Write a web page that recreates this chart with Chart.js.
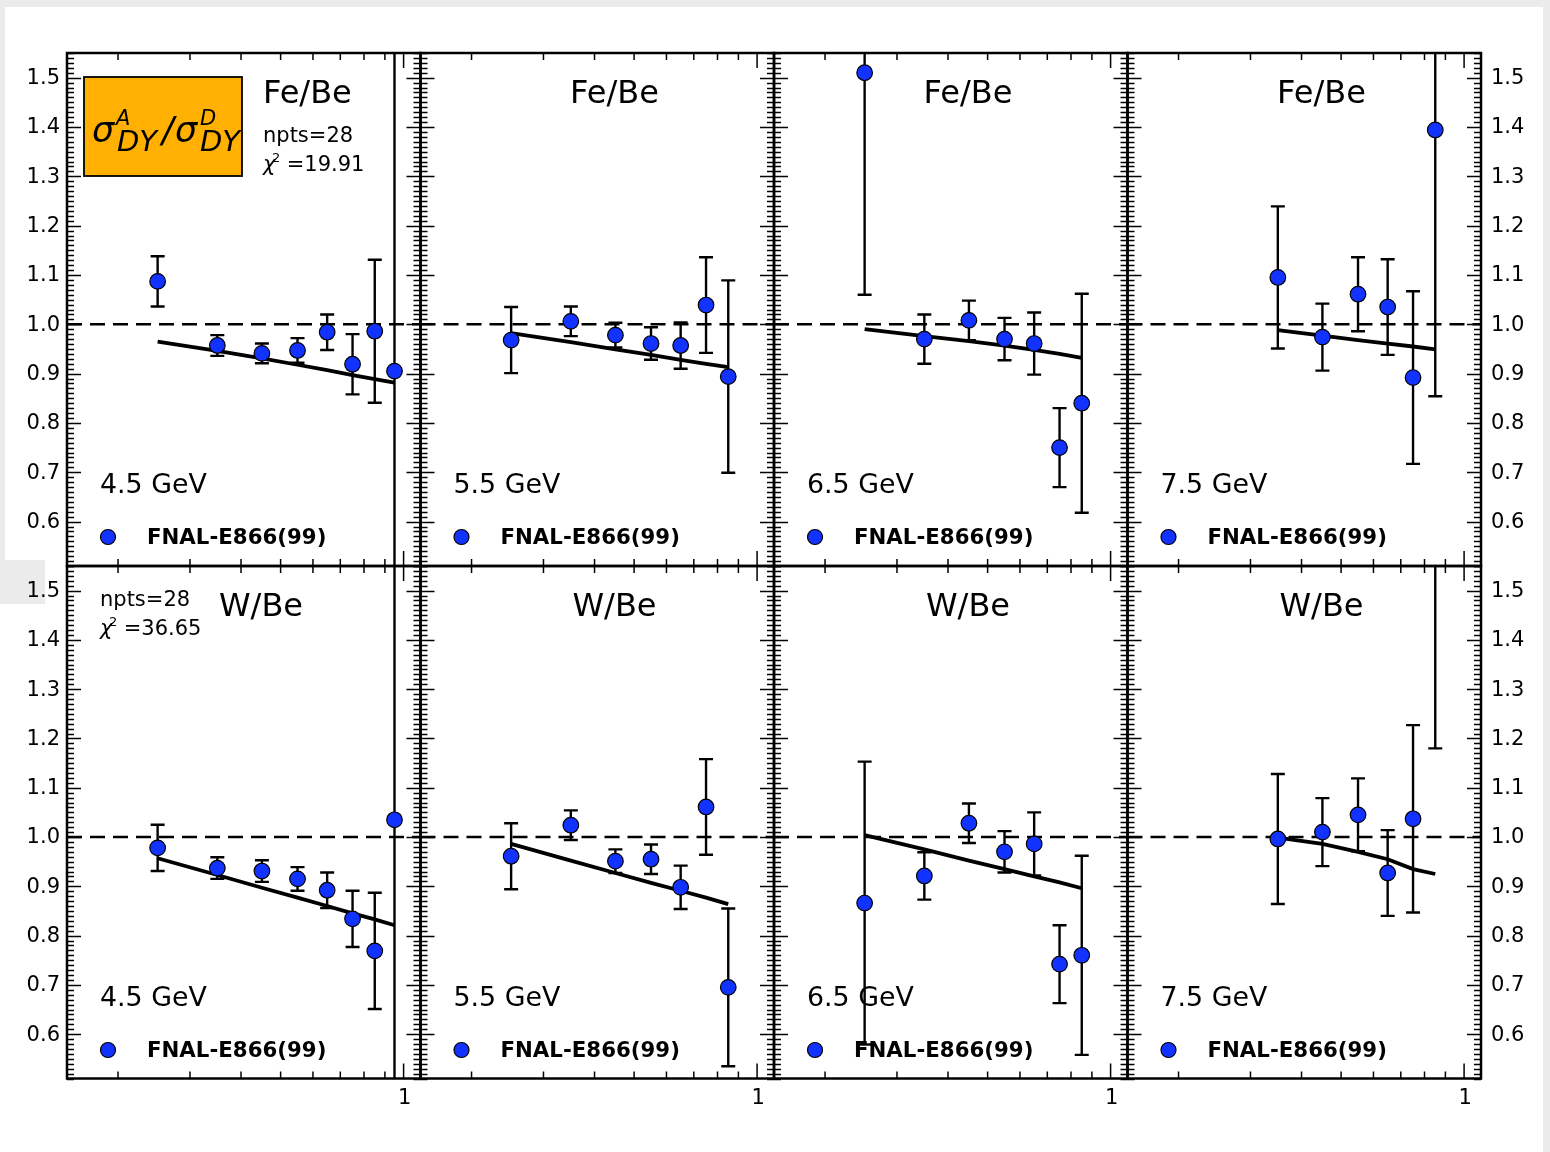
<!DOCTYPE html>
<html>
<head>
<meta charset="utf-8">
<script src="https://cdn.jsdelivr.net/npm/chart.js@4.4.0/dist/chart.umd.min.js"></script>
<style>
    body { margin: 0; background: #ebebeb; }
    #page { position: relative; width: 1550px; height: 1152px; overflow: hidden; }
    .sheet { position: absolute; background: #fff; }
    canvas { position: absolute; left: 0; top: 0; }
</style>
</head>
<body>
<div id="page">
    <div class="sheet" style="left:5px;top:7px;width:1538px;height:1145px;"></div>
    <div class="sheet" style="left:0;top:604px;width:6px;height:548px;"></div>
    <div style="position:absolute;left:0;top:560px;width:45px;height:44px;background:#ebebeb;"></div>
</div>
<script>
// x bins (log axis) and labels
const xAll = [0.25, 0.35, 0.45, 0.55, 0.65, 0.75, 0.85, 0.95];
const xMid = [0.25, 0.35, 0.45, 0.55, 0.65, 0.75, 0.85];
const xHigh = [0.35, 0.45, 0.55, 0.65, 0.75, 0.85];
const energyBins = ["4.5 GeV", "5.5 GeV", "6.5 GeV", "7.5 GeV"];
const ratioNames = ["Fe/Be", "W/Be"];
const yTicks = [0.6, 0.7, 0.8, 0.9, 1.0, 1.1, 1.2, 1.3, 1.4, 1.5];
const xMinorTicks = [0.2, 0.3, 0.4, 0.5, 0.6, 0.7, 0.8, 0.9];
const xMajorTicks = [1];
const fitStats = [["npts=28", "19.91"], ["npts=28", "36.65"]];

// Fe/Be
const fe45 = [1.087, 0.957, 0.941, 0.947, 0.984, 0.919, 0.986, 0.905];
const fe45Err = [0.051, 0.021, 0.020, 0.025, 0.036, 0.061, 0.145, 0.75];
const fe45Fit = [0.965, 0.946, 0.931, 0.918, 0.907, 0.897, 0.889, 0.882];

const fe55 = [0.968, 1.006, 0.978, 0.961, 0.957, 1.039, 0.894];
const fe55Err = [0.067, 0.030, 0.025, 0.033, 0.047, 0.097, 0.195];
const fe55Fit = [0.982, 0.964, 0.949, 0.938, 0.928, 0.920, 0.913];

const fe65 = [1.510, 0.970, 1.008, 0.970, 0.961, 0.750, 0.840];
const fe65Err = [0.450, 0.050, 0.040, 0.043, 0.063, 0.080, 0.222];
const fe65Fit = [0.990, 0.976, 0.966, 0.957, 0.948, 0.940, 0.932];

const fe75 = [1.095, 0.974, 1.061, 1.035, 0.892, 1.394];
const fe75Err = [0.144, 0.068, 0.075, 0.097, 0.175, 0.540];
const fe75Fit = [0.988, 0.977, 0.968, 0.961, 0.955, 0.949];

// W/Be
const w45 = [0.978, 0.937, 0.931, 0.915, 0.892, 0.834, 0.769, 1.035];
const w45Err = [0.047, 0.022, 0.022, 0.024, 0.036, 0.057, 0.118, 0.75];
const w45Fit = [0.957, 0.923, 0.897, 0.877, 0.860, 0.845, 0.833, 0.821];

const w55 = [0.961, 1.024, 0.951, 0.955, 0.898, 1.061, 0.695];
const w55Err = [0.067, 0.030, 0.024, 0.030, 0.044, 0.097, 0.160];
const w55Fit = [0.986, 0.952, 0.927, 0.907, 0.891, 0.877, 0.864];

const w65 = [0.866, 0.921, 1.028, 0.970, 0.986, 0.742, 0.760];
const w65Err = [0.287, 0.048, 0.040, 0.042, 0.064, 0.079, 0.202];
const w65Fit = [1.004, 0.975, 0.952, 0.935, 0.920, 0.908, 0.896];

const w75 = [0.996, 1.010, 1.045, 0.927, 1.037, 1.630];
const w75Err = [0.132, 0.069, 0.074, 0.087, 0.190, 0.450];
const w75Fit = [0.999, 0.986, 0.970, 0.955, 0.935, 0.925];

const panels = [
    { row: 0, col: 0, x: xAll, y: fe45, err: fe45Err, fit: fe45Fit },
    { row: 0, col: 1, x: xMid, y: fe55, err: fe55Err, fit: fe55Fit },
    { row: 0, col: 2, x: xMid, y: fe65, err: fe65Err, fit: fe65Fit },
    { row: 0, col: 3, x: xHigh, y: fe75, err: fe75Err, fit: fe75Fit },
    { row: 1, col: 0, x: xAll, y: w45, err: w45Err, fit: w45Fit },
    { row: 1, col: 1, x: xMid, y: w55, err: w55Err, fit: w55Fit },
    { row: 1, col: 2, x: xMid, y: w65, err: w65Err, fit: w65Fit },
    { row: 1, col: 3, x: xHigh, y: w75, err: w75Err, fit: w75Fit },
];

const POINT_BLUE = "#1233ff";
const FONT = '"DejaVu Sans", sans-serif';
const page = document.getElementById("page");

function panelDecor(p) {
    return {
        id: "decor",
        beforeDatasetsDraw(chart) {
            const { ctx, chartArea: a, scales: { x, y } } = chart;
            ctx.save();
            ctx.beginPath();
            ctx.rect(a.left, a.top, a.width, a.height);
            ctx.clip();
            ctx.strokeStyle = "#000";
            ctx.lineWidth = 2.4;
            p.x.forEach((xv, i) => {
                const px = x.getPixelForValue(xv);
                const lo = y.getPixelForValue(p.y[i] - p.err[i]);
                const hi = y.getPixelForValue(p.y[i] + p.err[i]);
                ctx.beginPath();
                ctx.moveTo(px, lo); ctx.lineTo(px, hi);
                ctx.moveTo(px - 7, lo); ctx.lineTo(px + 7, lo);
                ctx.moveTo(px - 7, hi); ctx.lineTo(px + 7, hi);
                ctx.stroke();
            });
            ctx.restore();
        },
        afterDraw(chart) {
            const { ctx, chartArea: a, scales: { x, y } } = chart;
            const L = a.left, T = a.top;
            ctx.save();
            ctx.strokeStyle = "#000";
            ctx.fillStyle = "#000";

            // inward ticks, y (minor every 0.01)
            ctx.lineWidth = 1.5;
            ctx.beginPath();
            for (let k = 51; k <= 155; k++) {
                const py = Math.round(y.getPixelForValue(k / 100)) + 0.5;
                const len = k % 10 === 0 ? 14 : 7;
                ctx.moveTo(a.left, py); ctx.lineTo(a.left + len, py);
                ctx.moveTo(a.right, py); ctx.lineTo(a.right - len, py);
            }
            // x ticks
            xMinorTicks.forEach(v => {
                const px = x.getPixelForValue(v);
                ctx.moveTo(px, a.bottom); ctx.lineTo(px, a.bottom - 7);
                ctx.moveTo(px, a.top); ctx.lineTo(px, a.top + 7);
            });
            xMajorTicks.forEach(v => {
                const px = x.getPixelForValue(v);
                ctx.moveTo(px, a.bottom); ctx.lineTo(px, a.bottom - 15);
                ctx.moveTo(px, a.top); ctx.lineTo(px, a.top + 15);
            });
            ctx.stroke();

            // spines
            ctx.lineWidth = 2.5;
            ctx.strokeRect(a.left, a.top, a.width, a.height);

            // tick labels
            ctx.font = "21px " + FONT;
            ctx.textBaseline = "middle";
            if (p.col === 0) {
                ctx.textAlign = "right";
                yTicks.forEach(v => ctx.fillText(v.toFixed(1), a.left - 7, y.getPixelForValue(v) + 1));
            }
            if (p.col === 3) {
                ctx.textAlign = "left";
                yTicks.forEach(v => ctx.fillText(v.toFixed(1), a.right + 10, y.getPixelForValue(v) + 1));
            }
            if (p.row === 1) {
                ctx.textAlign = "center";
                xMajorTicks.forEach(v => ctx.fillText(String(v), x.getPixelForValue(v) + 1, a.bottom + 20));
            }

            // ratio title
            ctx.textBaseline = "alphabetic";
            ctx.font = "32px " + FONT;
            if (p.row === 0 && p.col === 0) {
                ctx.textAlign = "left";
                ctx.fillText(ratioNames[0], L + 196, T + 50);
            } else {
                ctx.textAlign = "center";
                ctx.fillText(ratioNames[p.row], L + 194, T + 50);
            }

            // fit statistics
            if (p.col === 0) {
                const sx = p.row === 0 ? L + 196 : L + 33;
                const sy = p.row === 0 ? T + 89 : T + 40;
                const st = fitStats[p.row];
                ctx.textAlign = "left";
                ctx.font = "21px " + FONT;
                ctx.fillText(st[0], sx, sy);
                ctx.font = "italic 21px " + FONT;
                ctx.fillText("\u03c7", sx, sy + 29);
                ctx.font = "13px " + FONT;
                ctx.fillText("2", sx + 9, sy + 20);
                ctx.font = "21px " + FONT;
                ctx.fillText(" =" + st[1], sx + 17, sy + 29);
            }

            // energy label
            ctx.font = "26.8px " + FONT;
            ctx.textAlign = "left";
            ctx.fillText(energyBins[p.col], L + 33, T + 440);

            // legend
            ctx.beginPath();
            ctx.arc(L + 41, T + 484, 7.5, 0, Math.PI * 2);
            ctx.fillStyle = POINT_BLUE;
            ctx.fill();
            ctx.lineWidth = 1.2;
            ctx.stroke();
            ctx.fillStyle = "#000";
            ctx.font = "bold 21.3px " + FONT;
            ctx.fillText("FNAL-E866(99)", L + 80, T + 491);

            // orange label box
            if (p.row === 0 && p.col === 0) {
                ctx.fillStyle = "#ffb000";
                ctx.fillRect(L + 17, T + 24, 158, 99);
                ctx.lineWidth = 1.8;
                ctx.strokeRect(L + 17, T + 24, 158, 99);
                ctx.fillStyle = "#000";
                ctx.font = "italic 35px " + FONT;
                ctx.fillText("\u03c3", L + 25, T + 89);
                ctx.fillText("/", L + 95, T + 89);
                ctx.fillText("\u03c3", L + 108, T + 89);
                ctx.font = "italic 21px " + FONT;
                ctx.fillText("A", L + 49, T + 72);
                ctx.fillText("D", L + 133, T + 72);
                ctx.font = "italic 29px " + FONT;
                ctx.fillText("DY", L + 50, T + 98);
                ctx.fillText("DY", L + 133, T + 98);
            }
            ctx.restore();
        }
    };
}

panels.forEach(p => {
    const L = 67 + p.col * 353.5, R = L + 353.5;
    const T = p.row === 0 ? 53 : 566, B = p.row === 0 ? 566 : 1078.5;
    const cv = document.createElement("canvas");
    cv.width = 1550;
    cv.height = 1152;
    page.appendChild(cv);
    new Chart(cv, {
        type: "scatter",
        data: {
            datasets: [
                {
                    type: "scatter",
                    data: p.x.map((xv, i) => ({ x: xv, y: p.y[i] })),
                    pointRadius: 7.8,
                    backgroundColor: POINT_BLUE,
                    borderColor: "#000",
                    borderWidth: 1.2,
                    order: 0,
                },
                {
                    type: "line",
                    data: p.x.map((xv, i) => ({ x: xv, y: p.fit[i] })),
                    borderColor: "#000",
                    borderWidth: 3.8,
                    pointRadius: 0,
                    fill: false,
                    order: 1,
                },
                {
                    type: "line",
                    data: [{ x: 0.15, y: 1.0 }, { x: 1.1, y: 1.0 }],
                    borderColor: "#000",
                    borderWidth: 2.4,
                    borderDash: [15, 8],
                    pointRadius: 0,
                    fill: false,
                    order: 2,
                },
            ],
        },
        options: {
            responsive: false,
            animation: false,
            devicePixelRatio: 1,
            events: [],
            layout: { padding: { left: L, top: T, right: 1550 - R, bottom: 1152 - B } },
            scales: {
                x: { type: "logarithmic", min: 0.15, max: 1.1, display: false },
                y: { type: "linear", min: 0.51, max: 1.55, display: false },
            },
            plugins: { legend: { display: false }, tooltip: { enabled: false } },
        },
        plugins: [panelDecor(p)],
    });
});
</script>
</body>
</html>
